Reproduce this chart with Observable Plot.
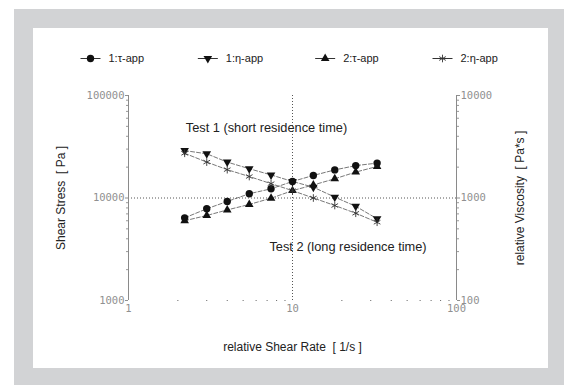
<!DOCTYPE html>
<html><head><meta charset="utf-8">
<script src="https://cdn.jsdelivr.net/npm/d3@7"></script>
<script src="https://cdn.jsdelivr.net/npm/@observablehq/plot@0.6"></script>
<style>
html,body{margin:0;padding:0;background:#fff;width:564px;height:385px;overflow:hidden}
#outer{position:absolute;left:14px;top:9px;width:550px;height:376px;background:#d2d3d5}
#inner{position:absolute;left:33px;top:28px;width:515px;height:340px;background:#fff}
#chart{position:absolute;left:0;top:0}
#legend{position:absolute;left:0;top:43px}
</style></head><body>
<div id="outer"></div><div id="inner"></div>
<div id="chart"></div><div id="legend"></div>
<script>
// shear rate values [1/s]
const shearRate = [2.2, 3, 4, 5.45, 7.4, 10, 13.4, 18.1, 24.3, 32.8];
// Test 1 / Test 2 shear stress [Pa] (left axis)
const tau1 = [6400, 7850, 9250, 11000, 12300, 14500, 16600, 18800, 20700, 21900];
const tau2 = [6000, 6750, 7650, 8650, 9950, 11800, 13400, 15400, 17900, 20300];
// Test 1 / Test 2 viscosity [Pa*s] (right axis)
const eta1 = [2900, 2700, 2240, 1930, 1680, 1450, 1275, 1020, 830, 627];
const eta2 = [2730, 2240, 1890, 1620, 1380, 1180, 1000, 845, 710, 580];
const seriesNames = ["1:τ-app", "1:η-app", "2:τ-app", "2:η-app"];
const leftTicks = [1000, 10000, 100000];
const rightTicks = [100, 1000, 10000];
const xTicks = [1, 10, 100];
const annotations = [
  {x: 6.94, y: 48700, text: "Test 1 (short residence time)"},
  {x: 21.8, y: 3365, text: "Test 2 (long residence time)"}
];
const rightToLeft = leftTicks[0] / rightTicks[0]; // right axis 100 aligns with left 1000

const seriesDefs = [
  {name: seriesNames[0], values: tau1, axis: "left"},
  {name: seriesNames[1], values: eta1, axis: "right"},
  {name: seriesNames[2], values: tau2, axis: "left"},
  {name: seriesNames[3], values: eta2, axis: "right"}
];
const rows = [];
seriesDefs.forEach(s => s.values.forEach((v, i) => rows.push({
  series: s.name, x: shearRate[i], y: s.axis === "right" ? v * rightToLeft : v
})));

const minorOf = (lo, hi) => {
  const out = [];
  for (let p = lo; p < hi; p *= 10) for (let k = 2; k <= 9; k++) out.push(p * k);
  return out;
};
const yMinor = minorOf(1000, 100000);
const xMinor = minorOf(1, 100);

const triDown = {
  draw(ctx, size) {
    const y = Math.sqrt(size / (Math.sqrt(3) * 3));
    ctx.moveTo(0, 2 * y);
    ctx.lineTo(-Math.sqrt(3) * y, -y);
    ctx.lineTo(Math.sqrt(3) * y, -y);
    ctx.closePath();
  }
};
const dash = {draw(ctx) { ctx.moveTo(-10, 0); ctx.lineTo(10, 0); }};
const styles = {
  [seriesNames[0]]: {symbol: "circle", r: 3.7, fill: "#111"},
  [seriesNames[1]]: {symbol: triDown, r: 3.2, fill: "#111"},
  [seriesNames[2]]: {symbol: "triangle", r: 3.2, fill: "#111"},
  [seriesNames[3]]: {symbol: "asterisk", r: 3.6, fill: "none", stroke: "#333", strokeWidth: 0.9}
};

const mono = "DejaVu Sans Mono, monospace";
const sans = "Liberation Sans, Arial, sans-serif";
const tickColor = "#909090";

const chart = Plot.plot({
  width: 564, height: 385,
  marginLeft: 128, marginRight: 108, marginTop: 95, marginBottom: 85,
  style: {background: "transparent", fontFamily: sans, overflow: "visible"},
  x: {type: "log", domain: [1, 100], label: null},
  y: {type: "log", domain: [1000, 100000], label: null},
  marks: [
    Plot.ruleX([10], {stroke: "#555", strokeDasharray: "1,2"}),
    Plot.ruleY([10000], {stroke: "#555", strokeDasharray: "1,2"}),
    Plot.ruleX([1, 100], {stroke: "#8a8a8a"}),
    Plot.axisY({anchor: "left", ticks: yMinor, tickSize: 2, tickFormat: () => "", color: "#999"}),
    Plot.axisY({anchor: "left", ticks: leftTicks, tickSize: 3, tickPadding: 1, tickFormat: d => String(d),
      color: tickColor, fontFamily: mono, fontSize: 10.5}),
    Plot.axisY({anchor: "right", ticks: yMinor, tickSize: 2, tickFormat: () => "", color: "#999"}),
    Plot.axisY({anchor: "right", ticks: leftTicks, tickSize: 3, tickPadding: 1,
      tickFormat: d => String(d / rightToLeft), color: tickColor, fontFamily: mono, fontSize: 10.5}),
    Plot.axisX({ticks: xMinor, tickSize: 1, tickFormat: () => "", color: "#666"}),
    Plot.axisX({ticks: xTicks, tickSize: 0, tickPadding: 4, tickFormat: d => String(d),
      color: tickColor, fontFamily: mono, fontSize: 10.5}),
    Plot.line(rows, {x: "x", y: "y", z: "series", stroke: "#555", strokeWidth: 0.8, strokeDasharray: "4,2"}),
    ...seriesNames.map(n => Plot.dot(rows.filter(d => d.series === n), {x: "x", y: "y", ...styles[n]})),
    Plot.text(annotations, {x: "x", y: "y", text: "text", fontSize: 12.8, fill: "#222"}),
    Plot.text(["Shear Stress  [ Pa ]"], {frameAnchor: "left", textAnchor: "middle", dx: -67, rotate: -90, fontSize: 12, fill: "#222"}),
    Plot.text(["relative Viscosity  [ Pa*s ]"], {frameAnchor: "right", textAnchor: "middle", dx: 64, rotate: -90, fontSize: 12, fill: "#222"}),
    Plot.text(["relative Shear Rate  [ 1/s ]"], {frameAnchor: "bottom", dy: 50, fontSize: 12, fill: "#222"})
  ]
});
document.getElementById("chart").append(chart);

const legendRows = seriesNames.map((n, i) => ({name: n, i}));
const legend = Plot.plot({
  width: 564, height: 30, margin: 0,
  style: {background: "transparent", fontFamily: sans},
  x: {domain: [0, 3], range: [108, 460], axis: null},
  marks: [
    Plot.dot(legendRows, {x: "i", frameAnchor: "middle", symbol: dash, stroke: "#333", strokeWidth: 1, fill: "none", dx: -18}),
    ...legendRows.map(d => Plot.dot([d], {x: "i", frameAnchor: "middle", dx: -18, ...styles[d.name]})),
    Plot.text(legendRows, {x: "i", frameAnchor: "middle", text: "name", textAnchor: "start", fontSize: 11, fill: "#222"})
  ]
});
document.getElementById("legend").append(legend);
</script>
</body></html>
